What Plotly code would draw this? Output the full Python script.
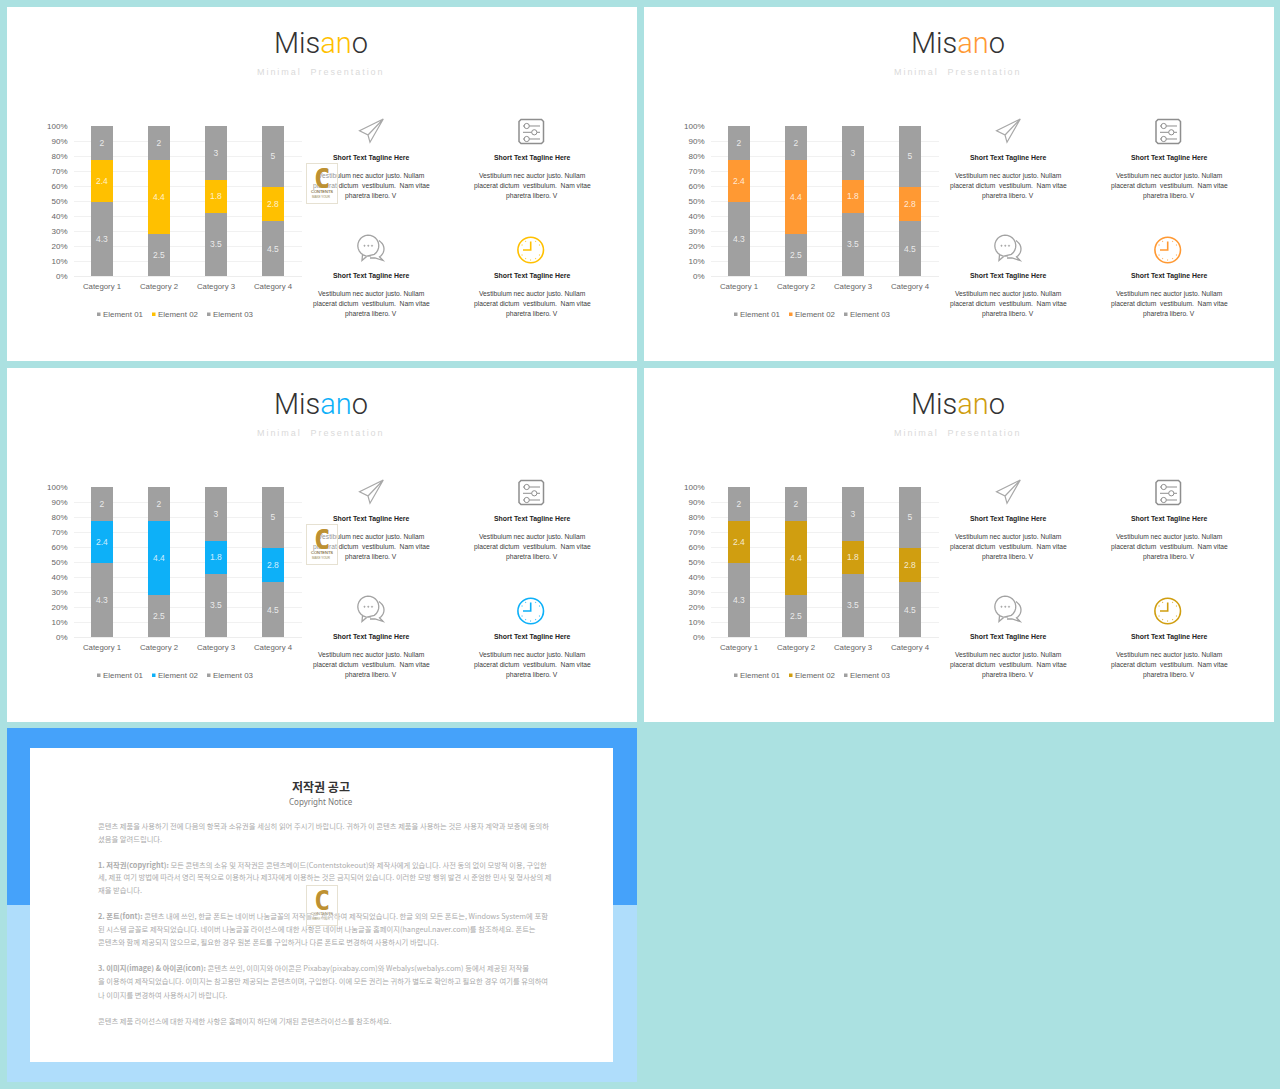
#!/usr/bin/env python3
"""Misano slide sheet: four stacked bar slides and a copyright notice."""

import numpy as np
import plotly.graph_objects as go

W, H = 1280, 1089

categories = ["Category 1", "Category 2", "Category 3", "Category 4"]
element_01 = [4.3, 2.5, 3.5, 4.5]
element_02 = [2.4, 4.4, 1.8, 2.8]
element_03 = [2, 2, 3, 5]
series_names = ["Element 01", "Element 02", "Element 03"]
y_ticks = [0, 10, 20, 30, 40, 50, 60, 70, 80, 90, 100]
y_tick_labels = ["0%", "10%", "20%", "30%", "40%", "50%", "60%", "70%", "80%", "90%", "100%"]

accent_colors = ["#FFC000", "#FF9933", "#0DB0F8", "#D09E10"]
gray = "#A0A0A0"

tagline = "Short Text Tagline Here"
body_lines = ["Vestibulum nec auctor justo. Nullam",
              "placerat dictum  vestibulum.  Nam vitae",
              "pharetra libero. V"]

notice_lines = [
    (826, "콘텐츠 제품을 사용하기 전에 다음의 항목과 소유권을 세심히 읽어 주시기 바랍니다. 귀하가 이 콘텐츠 제품을 사용하는 것은 사용자 계약과 보증에 동의하"),
    (839, "셨음을 알려드립니다."),
    (865, "<b>1. 저작권(copyright):</b> 모든 콘텐츠의 소유 및 저작권은 콘텐츠메이드(Contentstokeout)와 제작사에게 있습니다. 사전 동의 없이 모방적 이용, 구입한"),
    (877, "세, 제표 여기 방법에 따라서 영리 목적으로 이용하거나 제3자에게 이용하는 것은 금지되어 있습니다. 이러한 모방 행위 발견 시 준엄한 민사 및 형사상의 제"),
    (890, "재을 받습니다."),
    (916, "<b>2. 폰트(font):</b> 콘텐츠 내에 쓰인, 한글 폰트는 네이버 나눔글꼴의 저작물로 제작하여 제작되었습니다. 한글 외의 모든 폰트는, Windows System에 포함"),
    (929, "된 시스템 글꼴로 제작되었습니다. 네이버 나눔글꼴 라이선스에 대한 사항은 네이버 나눔글꼴 홈페이지(hangeul.naver.com)를 참조하세요. 폰트는"),
    (942, "콘텐츠와 함께 제공되지 않으므로, 필요한 경우 원본 폰트를 구입하거나 다른 폰트로 변경하여 사용하시기 바랍니다."),
    (968, "<b>3. 이미지(image) & 아이콘(icon):</b> 콘텐츠 쓰인, 이미지와 아이콘은 Pixabay(pixabay.com)와 Webalys(webalys.com) 등에서 제공된 저작물"),
    (981, "을 이용하여 제작되었습니다. 이미지는 참고용만 제공되는 콘텐츠이며, 구입한다. 이에 모든 권리는 귀하가 별도로 확인하고 필요한 경우 여기를 유의하여"),
    (995, "나 이미지를 변경하여 사용하시기 바랍니다."),
    (1021, "콘텐츠 제품 라이선스에 대한 자세한 사항은 홈페이지 하단에 기재된 콘텐츠라이선스를 참조하세요."),
]

slide_offsets = [(0, 0), (637, 0), (0, 361), (637, 361)]

fig = go.Figure()
shapes = []
annotations = []


def px(x):
    return x / W


def py(y):
    return 1 - y / H


def rect(x0, y0, x1, y1, fill, line=None):
    shapes.append(dict(type="rect", xref="paper", yref="paper", x0=px(x0), x1=px(x1),
                       y0=py(y0), y1=py(y1), fillcolor=fill,
                       line=dict(width=1 if line else 0, color=line or fill), layer="below"))


def text(x, y, s, size, color, font="Liberation Sans", anchor="center", weight=None):
    annotations.append(dict(xref="paper", yref="paper", x=px(x), y=py(y), text=s, showarrow=False,
                            xanchor=anchor, yanchor="middle", align=anchor,
                            font=dict(family=font, size=size, color=color, weight=weight)))


def poly(points, color, width=1.2, close=False):
    path = "M " + " L ".join(f"{px(a):.5f},{py(b):.5f}" for a, b in points)
    if close:
        path += " Z"
    shapes.append(dict(type="path", xref="paper", yref="paper", path=path,
                       line=dict(color=color, width=width), layer="above"))


def circle(cx, cy, r, color, width=1.2, fill="rgba(0,0,0,0)"):
    shapes.append(dict(type="circle", xref="paper", yref="paper", x0=px(cx - r), x1=px(cx + r),
                       y0=py(cy - r), y1=py(cy + r), fillcolor=fill,
                       line=dict(color=color, width=width), layer="above"))


def arc(cx, cy, r, start, end, n=24):
    t = np.radians(np.linspace(start, end, n))
    return list(zip(cx + r * np.cos(t), cy + r * np.sin(t)))


def plane_icon(dx, dy):
    c = "#A8A8A8"
    poly([(383.3 + dx, 119 + dy), (359.5 + dx, 130.7 + dy), (368 + dx, 135 + dy),
          (370 + dx, 142.3 + dy), (383.3 + dx, 119 + dy), (368 + dx, 135 + dy)], c, 1.2)


def sliders_icon(dx, dy):
    c = "#8E8E8E"
    rect_pts = [(521 + dx, 119.5 + dy), (541.5 + dx, 119.5 + dy), (543.5 + dx, 121.5 + dy),
                (543.5 + dx, 141.5 + dy), (541.5 + dx, 143.5 + dy), (521 + dx, 143.5 + dy),
                (519 + dx, 141.5 + dy), (519 + dx, 121.5 + dy)]
    poly(rect_pts, c, 1.5, close=True)
    for y, knob in [(126, 526.7), (132.3, 534.3), (139, 526.7)]:
        poly([(523 + dx, y + dy), (540 + dx, y + dy)], c, 1)
        circle(knob + dx, y + dy, 2.6, c, 1, fill="white")


def chat_icon(dx, dy):
    c = "#A3A3A3"
    poly(arc(368.3 + dx, 245.7 + dy, 10.5, 75, 415) +
         [(367 + dx, 256.2 + dy), (362 + dx, 260.5 + dy), (362.5 + dx, 255 + dy)], c, 1.3)
    poly([(379 + dx, 240.5 + dy)] + arc(375 + dx, 249 + dy, 9, -50, 60, 10) +
         [(383 + dx, 260.5 + dy), (375 + dx, 258 + dy), (370 + dx, 258 + dy)], c, 1.3)
    for x in (364.5, 368.3, 372):
        circle(x + dx, 245.7 + dy, 0.7, c, 0.5, fill=c)


def clock_icon(dx, dy, color):
    circle(530.7 + dx, 250 + dy, 12.8, color, 1.6)
    poly([(530.7 + dx, 241.5 + dy), (530.7 + dx, 250 + dy), (523 + dx, 250 + dy)], color, 1.6)
    for a in np.arange(30, 360, 30):
        if a in (270, 180):
            continue
        x, y = arc(530.7 + dx, 250 + dy, 10, a, a, 1)[0]
        circle(x, y, 0.3, color, 0.5, fill=color)


def logo(y_top):
    annotations.append(dict(xref="paper", yref="paper", x=px(321.5), y=py(y_top + 20), text=" ",
                            showarrow=False, width=30, height=39, xanchor="center", yanchor="middle",
                            bgcolor="rgba(255,255,255,0.25)", bordercolor="#E6E1D2", borderwidth=1,
                            borderpad=0))
    text(321.5, y_top + 15, "<b>C</b>", 27, "#BE9132", font="DejaVu Sans Mono")
    text(321.5, y_top + 28.5, "CONTENTS", 4, "#8C7B55")
    text(321.5, y_top + 34, "MAKE YOUR", 3, "#B9AE90")


# page pieces behind the slides
for dx, dy in slide_offsets:
    rect(7 + dx, 7 + dy, 637 + dx, 361 + dy, "white")
rect(7, 728, 637, 905, "#45A2FA")
rect(7, 905, 637, 1082, "#AFDDFB")
rect(30, 748, 613, 1062, "white")

for n, ((dx, dy), accent) in enumerate(zip(slide_offsets, accent_colors)):
    suffix = "" if n == 0 else str(n + 1)
    colors = [gray, accent, gray]
    for name, values, color in zip(series_names, [element_01, element_02, element_03], colors):
        fig.add_trace(go.Bar(x=categories, y=values, name=name, marker=dict(color=color, line_width=0),
                             text=values, textposition="inside", insidetextanchor="middle",
                             textangle=0, insidetextfont=dict(color="rgba(255,255,255,0.8)", size=8.5),
                             xaxis="x" + suffix, yaxis="y" + suffix, showlegend=False))

    fig.layout["xaxis" + suffix] = dict(
        domain=[px(73.5 + dx), px(301.5 + dx)], anchor="y" + suffix, showgrid=False, showline=True,
        linecolor="#EDEDED", linewidth=1, ticks="", tickfont=dict(size=7.8, color="#666666"),
        ticklabelstandoff=3, automargin=False)
    fig.layout["yaxis" + suffix] = dict(
        domain=[py(276 + dy), py(126 + dy)], anchor="x" + suffix, range=[0, 100], tickmode="array",
        tickvals=y_ticks, ticktext=y_tick_labels, gridcolor="#F1F1F1", gridwidth=1, zeroline=False,
        showline=False, tickfont=dict(size=8, color="#666666"), ticklabelstandoff=5, automargin=False)

    title = f'Mis<span style="color:{accent}">an</span>o'
    text(321 + dx, 43 + dy, title, 29, "#333333", font="Roboto", weight=300)
    text(321 + dx, 72 + dy, '<span style="letter-spacing:1.95px">Minimal  Presentation</span>',
         9, "#DADADA")

    # legend row
    for (x0, name, color) in zip((97, 152, 207), series_names, colors):
        rect(x0 + dx, 312.5 + dy, x0 + 3.5 + dx, 316 + dy, color)
        text(x0 + 3.5 + dx, 314 + dy, name, 7.9, "#666666", anchor="left")

    # four text blocks
    for cx, y in [(371, 158), (532, 158), (371, 276), (532, 276)]:
        text(cx + dx, y + dy, f"<b>{tagline}</b>", 6.9, "#222222")
        for k, line in enumerate(body_lines):
            text(cx + dx, y + 18 + 10 * k + dy, line, 6.7, "#404040")

    plane_icon(dx, dy)
    sliders_icon(dx, dy)
    chat_icon(dx, dy)
    clock_icon(dx, dy, accent)
    logo(163 + dy)

text(321, 786, "<b>저작권 공고</b>", 12, "#333333", font="Noto Sans CJK KR")
text(321, 801, "Copyright Notice", 8, "#777777", font="Noto Sans")
for y, line in notice_lines:
    text(96, y, line, 7.3, "#ABABAB", font="Noto Sans CJK KR", anchor="left")
logo(885)

fig.update_layout(
    width=W, height=H, margin=dict(l=0, r=0, t=0, b=0, pad=0), autosize=False,
    paper_bgcolor="#ABE1E1", plot_bgcolor="rgba(0,0,0,0)",
    barmode="stack", barnorm="percent", bargap=0.614,
    font=dict(family="Liberation Sans"), shapes=shapes, annotations=annotations,
)

fig.write_html("out.html", config=dict(displayModeBar=False),
               post_script="document.body.style.margin='0';document.body.style.background='#ABE1E1';")
